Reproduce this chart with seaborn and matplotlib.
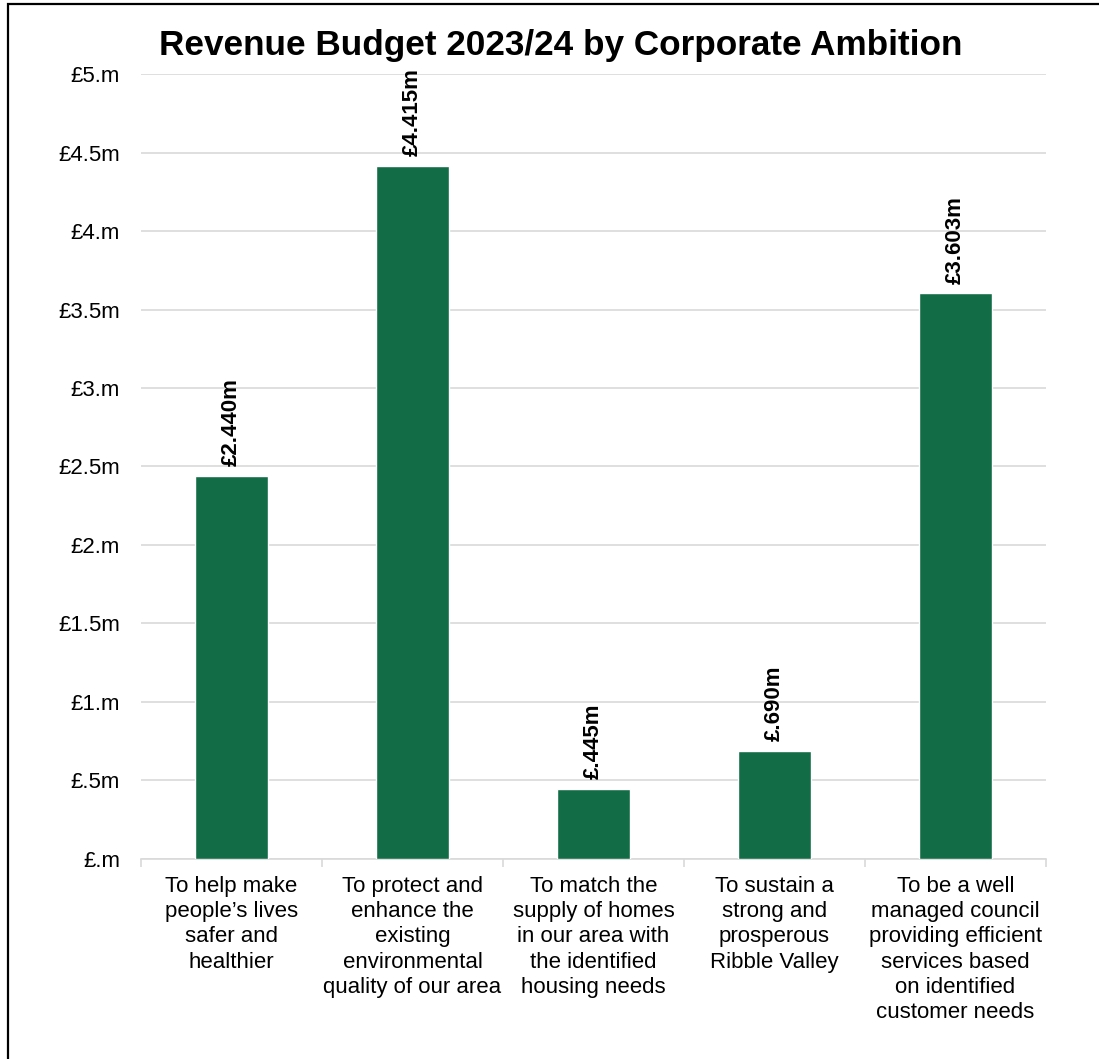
import matplotlib
matplotlib.use("Agg")
import matplotlib.pyplot as plt
import seaborn as sns
import pandas as pd
from matplotlib.patches import Rectangle

categories = [
    "To help make\npeople\u2019s lives\nsafer and\nhealthier",
    "To protect and\nenhance the\nexisting\nenvironmental\nquality of our area",
    "To match the\nsupply of homes\nin our area with\nthe identified\nhousing needs",
    "To sustain a\nstrong and\nprosperous\nRibble Valley",
    "To be a well\nmanaged council\nproviding efficient\nservices based\non identified\ncustomer needs",
]
values = [2.440, 4.415, 0.445, 0.690, 3.603]
value_labels = ["\u00a32.440m", "\u00a34.415m", "\u00a3.445m", "\u00a3.690m", "\u00a33.603m"]
y_ticks = [0, 0.5, 1, 1.5, 2, 2.5, 3, 3.5, 4, 4.5, 5]
y_tick_labels = ["\u00a3.m", "\u00a3.5m", "\u00a31.m", "\u00a31.5m", "\u00a32.m", "\u00a32.5m",
                 "\u00a33.m", "\u00a33.5m", "\u00a34.m", "\u00a34.5m", "\u00a35.m"]

sns.set_theme(style="white")
plt.rcParams["font.family"] = ["Liberation Sans", "DejaVu Sans"]

df = pd.DataFrame({"ambition": categories, "budget": values})

fig = plt.figure(figsize=(10.99, 10.59), dpi=100)
ax = fig.add_axes([0.1283, 0.1889, 0.8235, 0.7412])

green = "#126d47"
sns.barplot(data=df, x="ambition", y="budget", color=green, width=0.4,
            saturation=1, ax=ax, zorder=3)

ax.set_ylim(0, 5)
ax.set_xlim(-0.5, len(categories) - 0.5)
ax.set_yticks(y_ticks)
ax.set_yticklabels(y_tick_labels, fontsize=16, color="black")
ax.yaxis.grid(True, color="#d9d9d9", linewidth=1.2, zorder=0)
ax.set_axisbelow(True)
ax.tick_params(axis="y", length=0, pad=15)

ax.set_xticks(range(len(categories)))
ax.set_xticklabels(categories, fontsize=16, color="black", linespacing=1.27)
ax.set_xticks([i - 0.5 for i in range(len(categories) + 1)], minor=True)
ax.tick_params(axis="x", which="major", length=0, pad=12)
ax.tick_params(axis="x", which="minor", length=6, color="#d9d9d9", width=1.2,
               bottom=True, direction="out")
ax.set_xlabel("")
ax.set_ylabel("")

for side in ["top", "right", "left"]:
    ax.spines[side].set_visible(False)
ax.spines["bottom"].set_color("#d9d9d9")
ax.spines["bottom"].set_linewidth(1.2)

for bar, lab in zip(ax.patches, value_labels):
    h = bar.get_height()
    ax.annotate(lab, (bar.get_x() + bar.get_width() / 2, h),
                xytext=(0, 7), textcoords="offset points",
                rotation=90, ha="center", va="bottom",
                fontsize=16, fontweight="bold", color="black")

fig.text(0.51, 0.957, "Revenue Budget 2023/24 by Corporate Ambition",
         ha="center", va="center", fontsize=25.3, fontweight="bold", color="black")

fig.patches.append(Rectangle((8 / 1099, -0.05), 1.2, 1 - 4 / 1059 + 0.05,
                             transform=fig.transFigure, fill=False,
                             edgecolor="black", linewidth=1.6))

fig.savefig("out.png", dpi=100)
